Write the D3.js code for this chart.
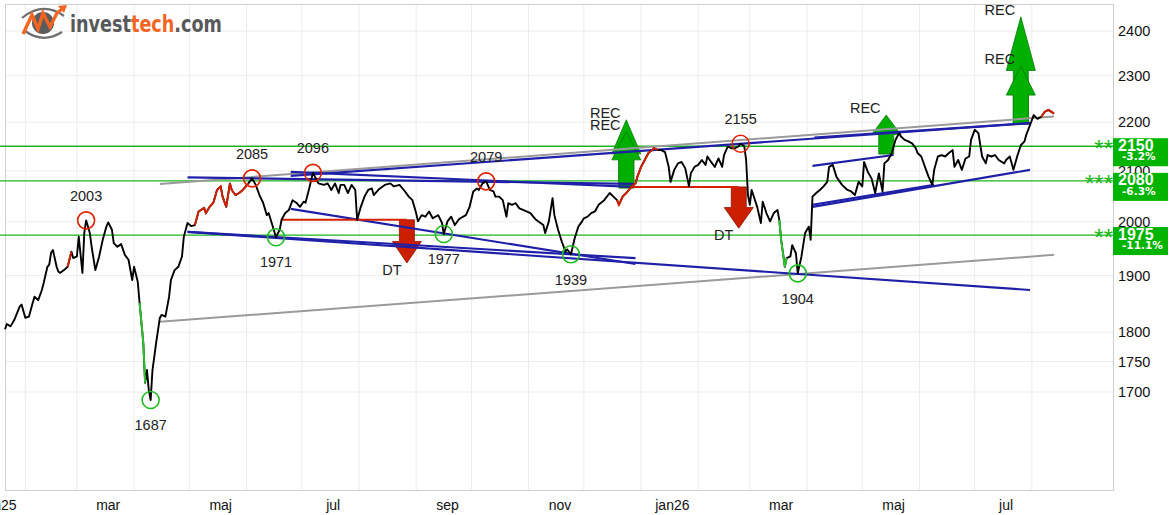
<!DOCTYPE html>
<html>
<head>
<meta charset="utf-8">
<script src="https://cdn.jsdelivr.net/npm/d3@7"></script>
<style>
body { margin: 0; background: #fff; }
svg { display: block; font-family: "Liberation Sans", Arial, sans-serif; }
</style>
</head>
<body>
<svg id="chart" width="1174" height="515"></svg>
<script>
/**
 * Price chart with trend channels, support/resistance and signals
**/

// closing prices [date, value]
var closes = [
    ['2025-01-21', 1805], ['2025-01-22', 1814], ['2025-01-24', 1810], ['2025-01-26', 1821], ['2025-01-29', 1845], ['2025-01-30', 1848],
    ['2025-02-01', 1825], ['2025-02-03', 1827], ['2025-02-05', 1851], ['2025-02-06', 1862], ['2025-02-08', 1856], ['2025-02-10', 1874],
    ['2025-02-11', 1887], ['2025-02-13', 1916], ['2025-02-14', 1920], ['2025-02-15', 1942], ['2025-02-16', 1947], ['2025-02-18', 1916],
    ['2025-02-19', 1907], ['2025-02-20', 1905], ['2025-02-22', 1910], ['2025-02-24', 1916], ['2025-02-26', 1944], ['2025-02-27', 1932],
    ['2025-03-01', 1935], ['2025-03-02', 1972], ['2025-03-04', 1905], ['2025-03-05', 1979], ['2025-03-06', 2003], ['2025-03-08', 1979],
    ['2025-03-09', 1953], ['2025-03-11', 1910], ['2025-03-13', 1934], ['2025-03-15', 1966], ['2025-03-17', 1991], ['2025-03-18', 1999],
    ['2025-03-20', 1985], ['2025-03-21', 1960], ['2025-03-23', 1953], ['2025-03-25', 1958], ['2025-03-27', 1938], ['2025-03-29', 1929],
    ['2025-03-31', 1892], ['2025-04-01', 1916], ['2025-04-03', 1889], ['2025-04-04', 1851], ['2025-04-06', 1782], ['2025-04-07', 1715],
    ['2025-04-08', 1736], ['2025-04-09', 1703], ['2025-04-10', 1687], ['2025-04-11', 1736], ['2025-04-13', 1782], ['2025-04-15', 1825],
    ['2025-04-16', 1830], ['2025-04-18', 1827], ['2025-04-20', 1862], ['2025-04-21', 1892], ['2025-04-23', 1910], ['2025-04-25', 1916],
    ['2025-04-27', 1935], ['2025-04-28', 1972], ['2025-04-30', 1998], ['2025-05-02', 1992], ['2025-05-04', 1994], ['2025-05-06', 2020],
    ['2025-05-09', 2027], ['2025-05-10', 2017], ['2025-05-12', 2029], ['2025-05-14', 2037], ['2025-05-15', 2049], ['2025-05-16', 2062],
    ['2025-05-18', 2069], ['2025-05-19', 2049], ['2025-05-21', 2029], ['2025-05-22', 2052], ['2025-05-23', 2075], ['2025-05-24', 2062],
    ['2025-05-26', 2052], ['2025-05-28', 2056], ['2025-05-30', 2062], ['2025-06-02', 2075], ['2025-06-04', 2085], ['2025-06-06', 2072],
    ['2025-06-08', 2052], ['2025-06-10', 2037], ['2025-06-12', 2013], ['2025-06-13', 2017], ['2025-06-15', 1994], ['2025-06-17', 1971],
    ['2025-06-19', 1985], ['2025-06-20', 2004], ['2025-06-22', 2017], ['2025-06-24', 2023], ['2025-06-26', 2042], ['2025-06-28', 2037],
    ['2025-06-30', 2029], ['2025-07-02', 2039], ['2025-07-03', 2037], ['2025-07-05', 2065], ['2025-07-07', 2096], ['2025-07-10', 2075],
    ['2025-07-13', 2072], ['2025-07-15', 2075], ['2025-07-17', 2062], ['2025-07-19', 2075], ['2025-07-21', 2056], ['2025-07-22', 2072],
    ['2025-07-24', 2072], ['2025-07-26', 2056], ['2025-07-28', 2072], ['2025-07-30', 2062], ['2025-07-31', 2004], ['2025-08-02', 2029],
    ['2025-08-04', 2049], ['2025-08-06', 2062], ['2025-08-08', 2065], ['2025-08-09', 2052], ['2025-08-12', 2064], ['2025-08-15', 2072],
    ['2025-08-18', 2075], ['2025-08-20', 2069], ['2025-08-23', 2072], ['2025-08-26', 2059], ['2025-08-28', 2049], ['2025-08-30', 2042],
    ['2025-09-01', 2017], ['2025-09-02', 2001], ['2025-09-04', 2013], ['2025-09-06', 2010], ['2025-09-08', 2020], ['2025-09-10', 2007],
    ['2025-09-13', 2013], ['2025-09-15', 1998], ['2025-09-16', 1977], ['2025-09-18', 2001], ['2025-09-20', 2010], ['2025-09-22', 1994],
    ['2025-09-24', 2004], ['2025-09-25', 2007], ['2025-09-28', 2013], ['2025-09-30', 2029], ['2025-10-02', 2059], ['2025-10-04', 2065],
    ['2025-10-05', 2062], ['2025-10-07', 2075], ['2025-10-09', 2079], ['2025-10-11', 2062], ['2025-10-13', 2059], ['2025-10-14', 2049],
    ['2025-10-16', 2049], ['2025-10-18', 2042], ['2025-10-20', 2010], ['2025-10-21', 2036], ['2025-10-23', 2033], ['2025-10-25', 2036],
    ['2025-10-27', 2026], ['2025-10-29', 2023], ['2025-11-02', 2017], ['2025-11-05', 2004], ['2025-11-09', 1994], ['2025-11-10', 1979],
    ['2025-11-12', 2001], ['2025-11-14', 2046], ['2025-11-15', 2013], ['2025-11-17', 1985], ['2025-11-19', 1963], ['2025-11-21', 1944],
    ['2025-11-22', 1948], ['2025-11-24', 1939], ['2025-11-26', 1969], ['2025-11-28', 1991], ['2025-11-30', 2001], ['2025-12-01', 2007],
    ['2025-12-03', 2010], ['2025-12-05', 2017], ['2025-12-07', 2020], ['2025-12-09', 2033], ['2025-12-11', 2039], ['2025-12-12', 2042],
    ['2025-12-15', 2056], ['2025-12-17', 2049], ['2025-12-19', 2042], ['2025-12-20', 2033], ['2025-12-22', 2049], ['2025-12-24', 2056],
    ['2025-12-27', 2069], ['2025-12-29', 2075], ['2025-12-30', 2088], ['2026-01-01', 2108], ['2026-01-03', 2122], ['2026-01-05', 2136],
    ['2026-01-07', 2142], ['2026-01-08', 2146], ['2026-01-10', 2142], ['2026-01-12', 2142], ['2026-01-14', 2138], ['2026-01-16', 2108],
    ['2026-01-17', 2078], ['2026-01-19', 2102], ['2026-01-21', 2115], ['2026-01-23', 2118], ['2026-01-25', 2105], ['2026-01-27', 2069],
    ['2026-01-28', 2095], ['2026-01-30', 2108], ['2026-02-01', 2112], ['2026-02-03', 2122], ['2026-02-05', 2112], ['2026-02-06', 2129],
    ['2026-02-08', 2118], ['2026-02-10', 2108], ['2026-02-12', 2125], ['2026-02-14', 2108], ['2026-02-15', 2132], ['2026-02-17', 2149],
    ['2026-02-19', 2146], ['2026-02-21', 2146], ['2026-02-23', 2150], ['2026-02-24', 2155], ['2026-02-26', 2150], ['2026-02-27', 2122],
    ['2026-02-28', 2052], ['2026-03-01', 2033], ['2026-03-02', 2062], ['2026-03-05', 2029], ['2026-03-07', 1998], ['2026-03-08', 2039],
    ['2026-03-10', 2017], ['2026-03-12', 2001], ['2026-03-14', 2017], ['2026-03-16', 2023], ['2026-03-17', 2004], ['2026-03-18', 1966],
    ['2026-03-20', 1916], ['2026-03-21', 1932], ['2026-03-23', 1935], ['2026-03-24', 1956], ['2026-03-26', 1941], ['2026-03-27', 1904],
    ['2026-03-29', 1935], ['2026-03-31', 1979], ['2026-04-02', 1991], ['2026-04-03', 1966], ['2026-04-04', 2049], ['2026-04-06', 2056],
    ['2026-04-08', 2062], ['2026-04-10', 2069], ['2026-04-12', 2078], ['2026-04-13', 2108], ['2026-04-15', 2112], ['2026-04-17', 2088],
    ['2026-04-20', 2072], ['2026-04-23', 2062], ['2026-04-25', 2059], ['2026-04-27', 2052], ['2026-04-29', 2078], ['2026-05-01', 2069],
    ['2026-05-02', 2118], ['2026-05-04', 2098], ['2026-05-06', 2085], ['2026-05-08', 2056], ['2026-05-10', 2095], ['2026-05-12', 2059],
    ['2026-05-13', 2115], ['2026-05-15', 2122], ['2026-05-17', 2136], ['2026-05-19', 2163], ['2026-05-21', 2177], ['2026-05-22', 2170],
    ['2026-05-24', 2163], ['2026-05-26', 2160], ['2026-05-28', 2156], ['2026-05-30', 2146], ['2026-05-31', 2136], ['2026-06-02', 2129],
    ['2026-06-04', 2108], ['2026-06-06', 2088], ['2026-06-08', 2072], ['2026-06-09', 2102], ['2026-06-11', 2129], ['2026-06-13', 2132],
    ['2026-06-15', 2129], ['2026-06-17', 2136], ['2026-06-19', 2142], ['2026-06-20', 2108], ['2026-06-22', 2122], ['2026-06-24', 2102],
    ['2026-06-26', 2125], ['2026-06-28', 2129], ['2026-06-29', 2163], ['2026-07-01', 2184], ['2026-07-03', 2177], ['2026-07-05', 2129],
    ['2026-07-07', 2115], ['2026-07-08', 2132], ['2026-07-10', 2129], ['2026-07-12', 2132], ['2026-07-14', 2122], ['2026-07-17', 2115],
    ['2026-07-18', 2122], ['2026-07-20', 2129], ['2026-07-22', 2102], ['2026-07-24', 2129], ['2026-07-26', 2152], ['2026-07-28', 2160],
    ['2026-07-29', 2174], ['2026-07-31', 2194], ['2026-08-02', 2215], ['2026-08-04', 2207], ['2026-08-06', 2211], ['2026-08-08', 2222],
    ['2026-08-10', 2226], ['2026-08-13', 2218]
];

// periods where the price line is coloured (overbought red / oversold green)
var hotRanges = [['2025-02-24', '2025-02-26'], ['2025-05-04', '2025-06-02'], ['2025-12-19', '2026-01-10'], ['2026-08-06', '2026-08-13']];
var coldRanges = [['2025-04-04', '2025-04-07'], ['2026-03-17', '2026-03-21']];

// pivot tops and bottoms
var topDates = ['2025-03-06', '2025-06-04', '2025-07-07', '2025-10-09', '2026-02-24'];
var topValues = [2003, 2085, 2096, 2079, 2155];
var bottomDates = ['2025-04-10', '2025-06-17', '2025-09-16', '2025-11-24', '2026-03-27'];
var bottomValues = [1687, 1971, 1977, 1939, 1904];

// support / resistance levels
var levels = [2150, 2080, 1975];
var levelStars = ['**', '***', '**'];
var levelChange = ['-3.2%', '-6.3%', '-11.1%'];

// trend lines [start date, start value, end date, end value]
var grayLines = [
    ['2025-04-15', 2074, '2026-08-13', 2212],
    ['2025-04-15', 1818, '2026-08-13', 1938]
];
var blueLines = [
    ['2025-04-30', 2087, '2025-12-28', 2074],
    ['2025-06-25', 2098, '2025-12-27', 2068],
    ['2025-06-25', 2090, '2026-07-31', 2198],
    ['2026-04-05', 2168, '2026-07-31', 2198],
    ['2025-04-30', 1981, '2026-07-31', 1874],
    ['2025-04-30', 1981, '2025-12-29', 1932],
    ['2025-06-25', 2025, '2025-12-29', 1921],
    ['2026-04-04', 2110, '2026-05-18', 2132],
    ['2026-04-04', 2029, '2026-07-31', 2102],
    ['2026-04-04', 2033, '2026-06-09', 2072]
];

// broken formation lines [from, to, value]
var breakLines = [['2025-06-20', '2025-08-27', 2004], ['2025-12-27', '2026-02-23', 2068]];

// signals: date, price at signal, price target, label
var signalDates = ['2025-08-27', '2025-12-24', '2025-12-24', '2026-02-23', '2026-05-14', '2026-07-26', '2026-07-26'];
var signalBase = [2004, 2066, 2066, 2068, 2134, 2196, 2196];
var signalTarget = [1923, 2205, 2180, 1988, 2215, 2433, 2321];
var signalLabel = ['DT', 'REC', 'REC', 'DT', 'REC', 'REC', 'REC'];

var yTicks = [1700, 1750, 1800, 1900, 2000, 2100, 2200, 2300, 2400];
var monthNames = ['jan', 'feb', 'mar', 'apr', 'maj', 'jun', 'jul', 'aug', 'sep', 'okt', 'nov', 'dec'];

var plot = {left: 5, right: 1113, top: 4, bottom: 490};
var parse = d3.timeParse('%Y-%m-%d');

var data = closes.map(function(c) { return {date: parse(c[0]), value: c[1]}; });
var lastDate = data[data.length - 1].date;

var x = d3.scaleTime()
    .domain([parse('2025-01-21'), parse('2026-09-14')])
    .range([plot.left, plot.right]);
var y = d3.scaleLog()
    .domain([1548, 2463])
    .range([plot.bottom, plot.top]);

var svg = d3.select('#chart');

// grid
var grid = svg.append('g').attr('class', 'grid');
grid.selectAll('.vgrid')
    .data(x.ticks(d3.timeMonth.every(1)).filter(function(d) { return d <= lastDate; }))
  .enter().append('line')
    .attr('x1', function(d) { return x(d); })
    .attr('x2', function(d) { return x(d); })
    .attr('y1', plot.top)
    .attr('y2', plot.bottom)
    .attr('stroke', '#ececec');
grid.selectAll('.hgrid')
    .data(yTicks)
  .enter().append('line')
    .attr('x1', plot.left)
    .attr('x2', plot.right)
    .attr('y1', function(d) { return y(d); })
    .attr('y2', function(d) { return y(d); })
    .attr('stroke', '#ececec');

// frame
svg.append('rect')
    .attr('x', plot.left + 0.5)
    .attr('y', plot.top + 0.5)
    .attr('width', plot.right - plot.left)
    .attr('height', plot.bottom - plot.top)
    .attr('fill', 'none')
    .attr('stroke', '#cfcfcf');

// month labels
var labelMonths = d3.timeMonth.range(parse('2025-01-01'), parse('2026-08-01'), 2);
svg.selectAll('.month-label')
    .data(labelMonths)
  .enter().append('text')
    .attr('x', function(d) { return x(d3.timeDay.offset(d, 17)); })
    .attr('y', 510)
    .attr('text-anchor', 'middle')
    .attr('font-size', 14)
    .attr('fill', '#111')
    .text(function(d) {
        var m = monthNames[d.getMonth()];
        return d.getMonth() === 0 ? m + String(d.getFullYear()).slice(2) : m;
    });

// y axis labels
svg.selectAll('.y-label')
    .data(yTicks)
  .enter().append('text')
    .attr('x', 1118)
    .attr('y', function(d) { return y(d); })
    .attr('dy', '0.36em')
    .attr('font-size', 14.5)
    .attr('fill', '#111')
    .text(function(d) { return d; });

// support / resistance lines
svg.selectAll('.level-line')
    .data(levels)
  .enter().append('line')
    .attr('x1', 0)
    .attr('x2', plot.right)
    .attr('y1', function(d) { return y(d); })
    .attr('y2', function(d) { return y(d); })
    .attr('stroke', '#1cb51c')
    .attr('stroke-width', 1.3);

// signal arrows (under the trend lines)
function arrowPath(cx, y0, y1) {
    var len = y1 - y0;
    var yh = y0 + len * 0.5;
    var sw = 7.5, hw = 14.5;
    return 'M' + (cx - sw) + ',' + y0 + 'L' + (cx + sw) + ',' + y0 +
        'L' + (cx + sw) + ',' + yh + 'L' + (cx + hw) + ',' + yh +
        'L' + cx + ',' + y1 + 'L' + (cx - hw) + ',' + yh +
        'L' + (cx - sw) + ',' + yh + 'Z';
}
var signals = signalDates.map(function(d, i) {
    return {date: parse(d), base: signalBase[i], target: signalTarget[i], label: signalLabel[i]};
});
var sig = svg.selectAll('.signal')
    .data(signals)
  .enter().append('g');
sig.append('path')
    .attr('d', function(d) { return arrowPath(x(d.date), y(d.base), y(d.target)); })
    .attr('fill', function(d) { return d.label === 'DT' ? '#cc1f00' : '#00b000'; })
    .attr('stroke', function(d) { return d.label === 'DT' ? '#8e1500' : '#067a06'; })
    .attr('stroke-width', 0.8);
sig.append('text')
    .attr('x', function(d) { return x(d.date) + (d.label === 'DT' ? -15 : -21); })
    .attr('y', function(d) { return y(d.target) + (d.label === 'DT' ? 6.5 : -7); })
    .attr('dy', '0.36em')
    .attr('text-anchor', 'middle')
    .attr('font-size', 14.5)
    .attr('fill', '#222')
    .text(function(d) { return d.label; });

function trendSeg(t) {
    return [[x(parse(t[0])), y(t[1])], [x(parse(t[2])), y(t[3])]];
}
var segLine = d3.line();

svg.selectAll('.gray-line')
    .data(grayLines)
  .enter().append('path')
    .attr('d', function(d) { return segLine(trendSeg(d)); })
    .attr('stroke', '#9a9a9a')
    .attr('stroke-width', 2)
    .attr('fill', 'none');

svg.selectAll('.blue-line')
    .data(blueLines)
  .enter().append('path')
    .attr('d', function(d) { return segLine(trendSeg(d)); })
    .attr('stroke', '#1f1fa8')
    .attr('stroke-width', 2.1)
    .attr('fill', 'none');

svg.selectAll('.break-line')
    .data(breakLines)
  .enter().append('line')
    .attr('x1', function(d) { return x(parse(d[0])); })
    .attr('x2', function(d) { return x(parse(d[1])); })
    .attr('y1', function(d) { return y(d[2]); })
    .attr('y2', function(d) { return y(d[2]); })
    .attr('stroke', '#d42200')
    .attr('stroke-width', 2);

// price line
var priceLine = d3.line()
    .x(function(d) { return x(d.date); })
    .y(function(d) { return y(d.value); });

svg.append('path')
    .datum(data)
    .attr('d', priceLine)
    .attr('fill', 'none')
    .attr('stroke', '#000')
    .attr('stroke-width', 1.9)
    .attr('stroke-linejoin', 'round');

function rangeData(r) {
    var a = parse(r[0]), b = parse(r[1]);
    return data.filter(function(d) { return d.date >= a && d.date <= b; });
}
svg.selectAll('.hot')
    .data(hotRanges)
  .enter().append('path')
    .attr('d', function(r) { return priceLine(rangeData(r)); })
    .attr('fill', 'none')
    .attr('stroke', '#d42200')
    .attr('stroke-width', 1.9);
svg.selectAll('.cold')
    .data(coldRanges)
  .enter().append('path')
    .attr('d', function(r) { return priceLine(rangeData(r)); })
    .attr('fill', 'none')
    .attr('stroke', '#2cc42c')
    .attr('stroke-width', 1.9);

// pivots
function pivots(dates, values, color, offset, cls) {
    var g = svg.selectAll('.' + cls)
        .data(dates.map(function(d, i) { return {date: parse(d), value: values[i]}; }))
      .enter().append('g');
    g.append('circle')
        .attr('cx', function(d) { return x(d.date); })
        .attr('cy', function(d) { return y(d.value); })
        .attr('r', 8.5)
        .attr('fill', 'none')
        .attr('stroke', color)
        .attr('stroke-width', 1.6);
    g.append('text')
        .attr('x', function(d) { return x(d.date); })
        .attr('y', function(d) { return y(d.value) + offset; })
        .attr('dy', '0.36em')
        .attr('text-anchor', 'middle')
        .attr('font-size', 14.5)
        .attr('fill', '#222')
        .text(function(d) { return d.value; });
}
pivots(topDates, topValues, '#dd2200', -25, 'top');
pivots(bottomDates, bottomValues, '#22bb22', 25, 'bottom');

// level tags on the right
var tag = svg.selectAll('.level-tag')
    .data(levels)
  .enter().append('g');
tag.append('text')
    .attr('x', plot.right)
    .attr('y', function(d) { return y(d) + 11; })
    .attr('text-anchor', 'end')
    .attr('font-size', 24)
    .attr('fill', '#1cb51c')
    .text(function(d, i) { return levelStars[i]; });
tag.append('rect')
    .attr('x', plot.right)
    .attr('y', function(d) { return y(d) - 8; })
    .attr('width', 55)
    .attr('height', 28)
    .attr('fill', '#00b400');
tag.append('text')
    .attr('x', 1118)
    .attr('y', function(d) { return y(d) + 4.5; })
    .attr('font-size', 16)
    .attr('font-weight', 'bold')
    .attr('fill', '#fff')
    .text(function(d) { return d; });
tag.append('text')
    .attr('x', 1122)
    .attr('y', function(d) { return y(d) + 14; })
    .attr('font-family', '"DejaVu Sans", sans-serif')
    .attr('font-size', 10.5)
    .attr('font-weight', 'bold')
    .attr('fill', '#fff')
    .text(function(d, i) { return levelChange[i]; });

// logo
var logo = svg.append('g').attr('class', 'logo');
logo.append('path')
    .attr('d', 'M22,18 Q43,1 64,16')
    .attr('fill', 'none').attr('stroke', '#6d6e70').attr('stroke-width', 2.2);
logo.append('path')
    .attr('d', 'M25,31 Q43,44 62,32')
    .attr('fill', 'none').attr('stroke', '#6d6e70').attr('stroke-width', 2.2);
logo.append('circle')
    .attr('cx', 43).attr('cy', 23).attr('r', 11)
    .attr('fill', '#5b5c5e');
logo.append('polyline')
    .attr('points', '23,34 32,15 38,29 43,13 50,27 57,13 62,9')
    .attr('fill', 'none').attr('stroke', '#f26522').attr('stroke-width', 3.4);
logo.append('path')
    .attr('d', 'M58,6 L67,5 L64,13 Z')
    .attr('fill', '#f26522');
var brand = logo.append('text')
    .attr('x', 70)
    .attr('y', 32)
    .attr('font-family', '"DejaVu Sans", sans-serif')
    .attr('font-weight', 'bold')
    .attr('font-size', 23)
    .attr('textLength', 152)
    .attr('lengthAdjust', 'spacingAndGlyphs');
brand.append('tspan').attr('fill', '#58595b').text('invest');
brand.append('tspan').attr('fill', '#f26522').text('tech');
brand.append('tspan').attr('fill', '#58595b').text('.com');
</script>
</body>
</html>
